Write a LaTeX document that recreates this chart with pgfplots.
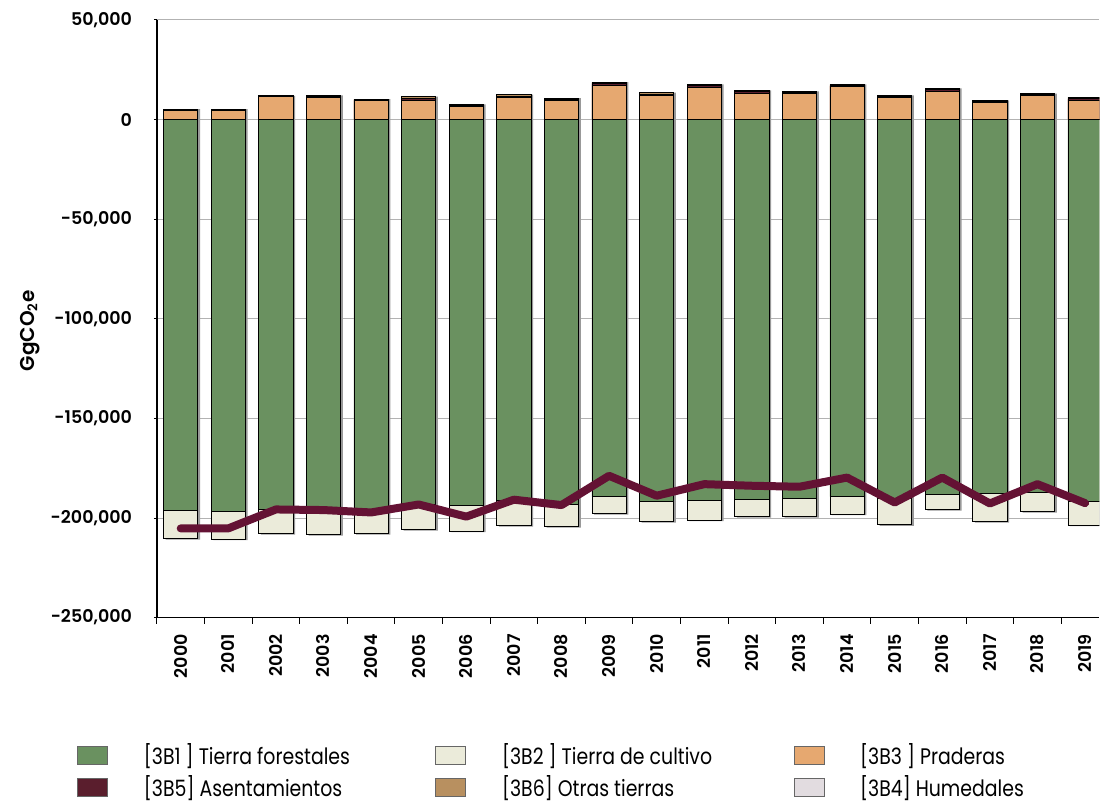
\documentclass[border=0pt]{standalone}
\usepackage{pgfplots}
\pgfplotsset{compat=1.18}
\usepackage{pgfplotstable}
\usepackage{fontspec}
\setmainfont{Poppins}
\newfontfamily\tickfont{Poppins SemiBold}
\newfontfamily\legfont{Poppins}[FakeStretch=0.84]
\definecolor{c3b1}{HTML}{6A9160}
\definecolor{c3b2}{HTML}{EBEBDA}
\definecolor{c3b3}{HTML}{E6A870}
\definecolor{c3b5}{HTML}{5A1E2D}
\definecolor{c3b6}{HTML}{B89060}
\definecolor{c3b4}{HTML}{E2DCE0}
\definecolor{lineC}{HTML}{641234}
\pgfplotstableread{
x G C P A O net
0 -196300 -13900 4800 300 100 -205200
1 -196700 -13800 4800 300 100 -205200
2 -195500 -12200 11500 300 100 -195700
3 -196000 -12200 11200 400 600 -196000
4 -196000 -11700 9500 400 400 -197200
5 -193300 -12400 9700 1000 800 -193200
6 -193800 -12700 6800 500 400 -199300
7 -191000 -12700 11000 800 700 -190800
8 -193000 -11200 9800 500 500 -193500
9 -189200 -8500 17000 1200 600 -178800
10 -191800 -9900 12200 600 700 -188800
11 -191200 -9800 16300 700 700 -183000
12 -190700 -8500 13000 900 800 -183800
13 -190000 -9200 13000 500 700 -184300
14 -189200 -8800 16700 400 600 -179700
15 -190000 -13300 11000 500 700 -192200
16 -188000 -7700 14300 800 600 -179700
17 -187700 -14000 8700 400 600 -192700
18 -187000 -9700 12000 400 600 -183000
19 -191700 -11800 9800 700 800 -192500
}\data
\begin{document}
\begin{tikzpicture}
\begin{axis}[
  name=ax,
  scale only axis,
  width=565.8pt, height=358.8pt,
  xmin=-0.5, xmax=19.3,
  ymin=-250000, ymax=50000,
  axis lines*=left,
  axis line style={-, black, line width=0.8pt},
  tick align=outside,
  xtick={0,...,19},
  xticklabels={2000,2001,2002,2003,2004,2005,2006,2007,2008,2009,2010,2011,2012,2013,2014,2015,2016,2017,2018,2019},
  major x tick style={draw=none},
  minor xtick={-0.5,0.5,...,18.5},
  minor tick length=3.6pt,
  minor x tick style={black, line width=0.6pt},
  ytick={-250000,-200000,-150000,-100000,-50000,0,50000},
  yticklabels={{-250,000},{-200,000},{-150,000},{-100,000},{-50,000},{0},{50,000}},
  major tick length=1.8pt,
  y tick style={black, line width=0.6pt},
  scaled y ticks=false,
  ymajorgrids,
  major grid style={black!30, line width=0.6pt},
  tick label style={font=\tickfont\fontsize{10.5}{12}\selectfont},
  xticklabel style={rotate=90, anchor=east, inner sep=0pt},
  xticklabel shift=8pt,
  yticklabel style={anchor=east, inner sep=0pt},
  yticklabel shift=13pt,
  ylabel={GgCO\textsubscript{2}e},
  every axis y label/.style={at={(axis description cs:-0.1347,0.48)}, rotate=90, anchor=center, font=\tickfont\fontsize{12}{14}\selectfont},
  legend image code/.code={\draw[#1] (0pt,-5.4pt) rectangle (18pt,5.4pt);},
  legend columns=3,
  legend cell align=left,
  legend style={at={(axis description cs:-0.0848,-0.2100)}, anchor=north west, draw=none, fill=none, inner sep=0pt, row sep=5.4pt,
    nodes={inner sep=0pt, font=\legfont\fontsize{13.5}{15}\selectfont},
    /tikz/every odd column/.style={column sep=21.6pt}},
]
% shadows
\addplot[forget plot, ybar, bar width=0.72, bar shift=1.3pt, fill=black!40, draw=none] table[x=x, y expr=\thisrow{G}+\thisrow{C}-600] {\data};
\addplot[forget plot, ybar, bar width=0.72, bar shift=1.3pt, fill=black!40, draw=none] table[x=x, y expr=\thisrow{P}+\thisrow{A}+\thisrow{O}] {\data};
% bars
\addplot[forget plot, ybar, bar width=0.72, bar shift=0pt, fill=c3b2, draw=black, line width=0.5pt] table[x=x, y expr=\thisrow{G}+\thisrow{C}] {\data};
\addplot[forget plot, ybar, bar width=0.72, bar shift=0pt, fill=c3b1, draw=black, line width=0.5pt] table[x=x, y=G] {\data};
\addplot[forget plot, ybar, bar width=0.72, bar shift=0pt, fill=c3b6, draw=black, line width=0.5pt] table[x=x, y expr=\thisrow{P}+\thisrow{A}+\thisrow{O}] {\data};
\addplot[forget plot, ybar, bar width=0.72, bar shift=0pt, fill=c3b5, draw=black, line width=0.5pt] table[x=x, y expr=\thisrow{P}+\thisrow{A}] {\data};
\addplot[forget plot, ybar, bar width=0.72, bar shift=0pt, fill=c3b3, draw=black, line width=0.5pt] table[x=x, y=P] {\data};
% net line
\addplot[forget plot, line width=4.8pt, color=lineC, line cap=round, line join=round, mark=none] table[x=x, y=net] {\data};
\addlegendimage{fill=c3b1, draw=black!60}
\addlegendentry{\makebox[175pt][l]{[3B1 ] Tierra forestales}}
\addlegendimage{fill=c3b2, draw=black!60}
\addlegendentry{\makebox[175pt][l]{[3B2 ] Tierra de cultivo}}
\addlegendimage{fill=c3b3, draw=black!60}
\addlegendentry{[3B3 ] Praderas}
\addlegendimage{fill=c3b5, draw=black!60}
\addlegendentry{\makebox[175pt][l]{[3B5] Asentamientos}}
\addlegendimage{fill=c3b6, draw=black!60}
\addlegendentry{\makebox[175pt][l]{[3B6] Otras tierras}}
\addlegendimage{fill=c3b4, draw=black!60}
\addlegendentry{[3B4] Humedales}
\end{axis}
\path ([shift={(-94.2pt,-111pt)}]ax.south west) rectangle ([shift={(0pt,12pt)}]ax.north east);
\end{tikzpicture}
\end{document}
